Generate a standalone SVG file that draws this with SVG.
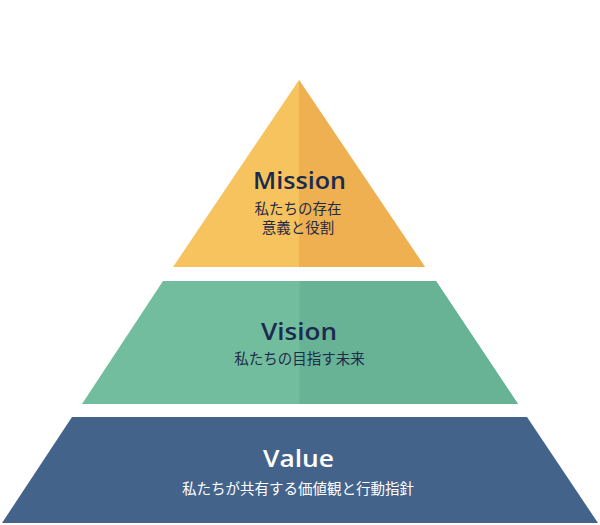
<svg xmlns="http://www.w3.org/2000/svg" width="600" height="525" viewBox="0 0 600 525">
<style>
.h{font-family:"Open Sans","Noto Sans",sans-serif;font-weight:600;font-size:23px;text-anchor:middle;fill:#1B2B50}
.j{font-family:"Noto Sans CJK JP","Noto Sans",sans-serif;font-weight:400;font-size:14.5px;text-anchor:middle;fill:#1F2B48}
.w{fill:#FFFFFF}
</style>
<rect width="600" height="525" fill="#FFFFFF"/>
<g id="mission">
<polygon points="299,80 173,267 425,267" fill="#F7C35F"/>
<polygon points="299,80 299,267 425,267" fill="#EEB050"/>
<text class="h" x="299.5" y="189" textLength="93" lengthAdjust="spacingAndGlyphs">Mission</text>
<text class="j" x="298" y="214">私たちの存在</text>
<text class="j" x="298" y="233">意義と役割</text>
</g>
<g id="vision">
<polygon points="163,281 436,281 518,404 82,404" fill="#73BD9F"/>
<polygon points="299.5,281 436,281 518,404 299.5,404" fill="#68B296"/>
<text class="h" x="299" y="340" textLength="76" lengthAdjust="spacingAndGlyphs">Vision</text>
<text class="j" x="299.5" y="364">私たちの目指す未来</text>
</g>
<g id="value">
<polygon points="72,417 527,417 598,523 2,523" fill="#44638B"/>
<text class="h w" x="298.5" y="467" textLength="71" lengthAdjust="spacingAndGlyphs">Value</text>
<text class="j w" x="298" y="494">私たちが共有する価値観と行動指針</text>
</g>
<g id="connectors"/>
</svg>
